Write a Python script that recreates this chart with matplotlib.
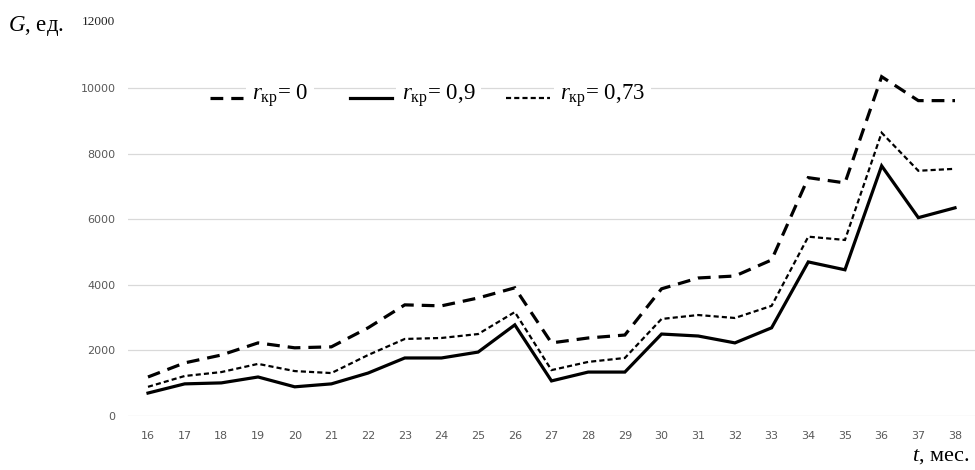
import matplotlib
matplotlib.use("Agg")
import matplotlib.pyplot as plt
from matplotlib.lines import Line2D

plt.rcParams['mathtext.fontset'] = 'custom'
plt.rcParams['mathtext.rm'] = 'Liberation Serif'
plt.rcParams['mathtext.it'] = 'Liberation Serif:italic'

months = list(range(16, 39))
g_r0 = [1190, 1620, 1860, 2230, 2080, 2110, 2690, 3390, 3360, 3600, 3910,
        2230, 2380, 2470, 3880, 4210, 4270, 4760, 7270, 7110, 10350, 9620, 9620]
g_r09 = [700, 980, 1010, 1190, 890, 980, 1310, 1770, 1770, 1950, 2780,
         1070, 1340, 1340, 2500, 2440, 2230, 2690, 4700, 4460, 7630, 6050, 6350]
g_r073 = [890, 1220, 1340, 1590, 1370, 1310, 1860, 2350, 2380, 2500, 3170,
          1400, 1650, 1770, 2960, 3080, 2990, 3360, 5470, 5370, 8640, 7480, 7540]
y_ticks = [0, 2000, 4000, 6000, 8000, 10000]
legend_labels = [r'$r_{\mathrm{кр}}$= 0', r'$r_{\mathrm{кр}}$= 0,9', r'$r_{\mathrm{кр}}$= 0,73']

W, H = 975, 470
fig = plt.figure(figsize=(W / 100, H / 100), dpi=100)
ax = fig.add_axes([128 / W, 1 - 416 / H, 847 / W, (416 - 22.6) / H])

styles = [
    dict(color='black', lw=2.3, dashes=(4.0, 2.5)),
    dict(color='black', lw=2.3, linestyle='-'),
    dict(color='black', lw=1.6, dashes=(2.3, 1.4)),
]
series = [g_r0, g_r09, g_r073]
for s, st in zip(series, styles):
    ax.plot(months, s, solid_joinstyle='miter', dash_joinstyle='miter', dash_capstyle='butt', **st)

ax.set_xlim(15.455, 38.545)
ax.set_ylim(0, 12000)
ax.set_xticks(months)
ax.set_xticklabels([str(m) for m in months])
ax.set_yticks(y_ticks)
ax.set_yticklabels([str(v) for v in y_ticks])
ax.tick_params(length=0, labelsize=8, labelcolor='#595959')
ax.tick_params(axis='y', pad=9)
ax.tick_params(axis='x', pad=11)
ax.grid(axis='y', color='#d9d9d9', lw=0.9)
ax.set_axisbelow(True)
for sp in ax.spines.values():
    sp.set_visible(False)

# top label "12000"
fig.text(115 / W, 1 - 22 / H, '12000', ha='right', va='center', fontsize=9.5,
         family='Liberation Serif', color='#222222')

# axis titles
fig.text(8 / W, 1 - 26 / H, r'$G$, ед.', ha='left', va='center', fontsize=16.5,
         family='Liberation Serif')
fig.text(969 / W, 1 - 457 / H, r'$t$, мес.', ha='right', va='center', fontsize=16,
         family='Liberation Serif')

# legend: samples + texts with white background
ly = (416 - 98) / (416 - 22.6)
samples = [(210, 243), (350, 392), (506, 550)]
text_x = [252, 402, 560]
for (x0, x1), tx, st, lab in zip(samples, text_x, styles, legend_labels):
    ln = Line2D([(x0 - 128) / 847, (x1 - 128) / 847], [ly, ly], transform=ax.transAxes,
                clip_on=False, **st)
    ax.add_line(ln)
    ax.text((tx - 128) / 847, (416 - 96) / (416 - 22.6), lab, transform=ax.transAxes,
            ha='left', va='center', fontsize=16.5, family='Liberation Serif',
            bbox=dict(boxstyle='square,pad=0.25', fc='white', ec='none'))

fig.savefig('out.png', dpi=100)
